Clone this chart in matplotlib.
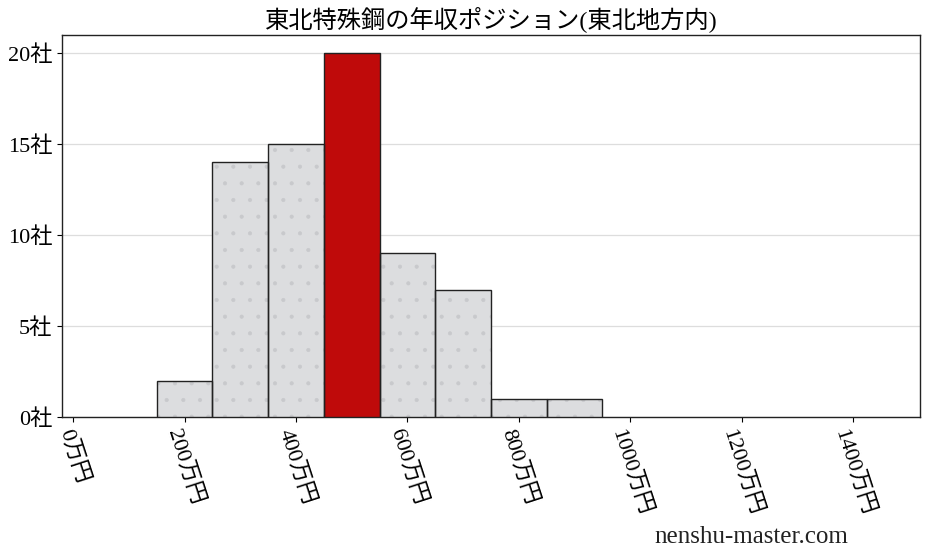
import matplotlib
matplotlib.use("Agg")
import matplotlib.pyplot as plt

plt.rcParams['font.family'] = ['Liberation Serif', 'Noto Sans CJK JP', 'DejaVu Sans']
plt.rcParams['hatch.linewidth'] = 0.5

# Data
bin_centers = [200, 300, 400, 500, 600, 700, 800, 900]
counts = [2, 14, 15, 20, 9, 7, 1, 1]
highlight = 500
x_ticks = [0, 200, 400, 600, 800, 1000, 1200, 1400]
y_ticks = [0, 5, 10, 15, 20]
title = "東北特殊鋼の年収ポジション(東北地方内)"

fig = plt.figure(figsize=(9.28, 5.57), dpi=100)
ax = fig.add_axes([62 / 928, 1 - 417 / 557, (920 - 62) / 928, (417 - 35) / 557])

colors = ['#bf0a0a' if c == highlight else '#dcdddf' for c in bin_centers]
hatches = ['' if c == highlight else '.' for c in bin_centers]

# fill with a faint dotted texture, then outline on top
fills = ax.bar(bin_centers, counts, width=100, color=colors, edgecolor='#c8c9cc',
               linewidth=0, zorder=3)
for b, h in zip(fills, hatches):
    b.set_hatch(h)
ax.bar(bin_centers, counts, width=100, fill=False, edgecolor='#222222',
       linewidth=1.0, zorder=4)

ax.set_xlim(-20, 1520)
ax.set_ylim(0, 21)
ax.set_xticks(x_ticks)
ax.set_xticklabels([f"{t}万円" for t in x_ticks], rotation=-72, ha='center', fontsize=16)
ax.set_yticks(y_ticks)
ax.set_yticklabels([f"{t}社" for t in y_ticks], fontsize=16)
ax.grid(axis='y', color='#dddddd', linewidth=0.9, zorder=0)
ax.set_axisbelow(True)
for s in ax.spines.values():
    s.set_color('#222222')
    s.set_linewidth(1.0)

ax.set_title(title, fontsize=17.5, pad=6)
fig.text(848 / 928, 1 - 537 / 557, "nenshu-master.com", fontsize=18, ha='right', va='center',
         color='#222222')

fig.savefig("out.png", dpi=100)
